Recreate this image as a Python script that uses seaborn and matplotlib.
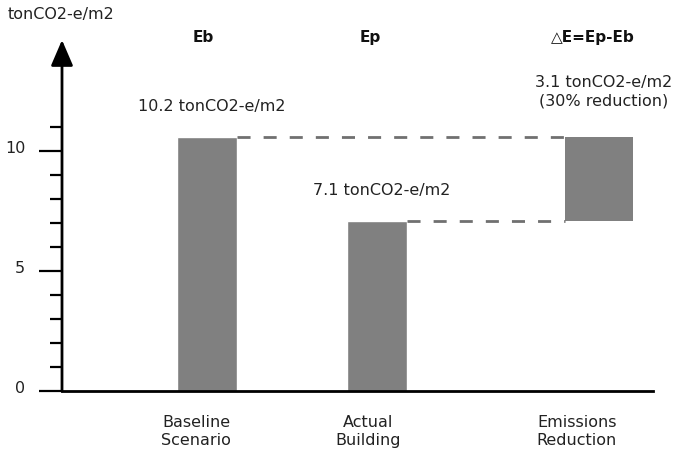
import matplotlib
matplotlib.use("Agg")
import matplotlib.pyplot as plt
import matplotlib.transforms as mtransforms
import seaborn as sns

sns.set_style("white")
plt.rcParams["font.family"] = ["DejaVu Sans"]

# values as drawn in the picture (tonCO2-e/m2)
scenarios = ["Baseline\nScenario", "Actual\nBuilding", "Emissions\nReduction"]
headers = ["Eb", "Ep", "\u25b3E=Ep-Eb"]
emissions = [10.6, 7.1]          # Eb, Ep bar heights
value_labels = ["10.2 tonCO2-e/m2", "7.1 tonCO2-e/m2",
                "3.1 tonCO2-e/m2\n(30% reduction)"]
unit = "tonCO2-e/m2"

W, H = 677, 454
fig = plt.figure(figsize=(W / 100, H / 100), dpi=100)
# axes placed in pixel terms: y axis at x=62, x axis from 62 to 653, zero at y=391, arrow tip at y=40
ax = fig.add_axes([62 / W, 1 - 391 / H, (653 - 62) / W, (391 - 40) / H])
px = 24.0  # pixels per unit on the y scale
ax.set_xlim(62, 653)
ax.set_ylim(0, 351 / px)

gray = "#808080"
bar_x = [207, 376.5]
sns.barplot(x=bar_x, y=emissions, native_scale=True, color=gray, saturation=1,
            width=60 / (bar_x[1] - bar_x[0]), errorbar=None, ax=ax)
# floating reduction bar
red_x = 599
ax.bar(red_x, emissions[0] - emissions[1], bottom=emissions[1], width=68,
       color=gray, linewidth=0)

# dashed connector lines
dash = dict(color="#707070", lw=2, ls=(0, (4.7, 4.7)))
ax.plot([237, 565], [emissions[0]] * 2, **dash)
ax.plot([407, 565], [emissions[1]] * 2, **dash)

# axes styling
sns.despine(ax=ax, top=True, right=True, left=True)
ax.spines["bottom"].set_linewidth(2)
ax.spines["bottom"].set_color("black")
ax.annotate("", xy=(62, 351 / px), xytext=(62, 0), xycoords="data",
            arrowprops=dict(arrowstyle="-|>,head_length=1.58,head_width=0.68",
                            color="black", lw=2, shrinkA=0, shrinkB=0,
                            mutation_scale=10),
            annotation_clip=False)

ax.set_yticks([0, 5, 10])
ax.set_yticks([1, 2, 3, 4, 6, 7, 8, 9, 11], minor=True)
ax.tick_params(axis="y", which="major", left=True, length=16.5, width=1.6,
               color="black", pad=10, labelsize=11.5, labelcolor="#222222")
ax.tick_params(axis="y", which="minor", left=True, length=8.6, width=1.6,
               color="black")
offset = mtransforms.ScaledTranslation(0, 4 / 100, fig.dpi_scale_trans)
for lab in ax.get_yticklabels():
    lab.set_transform(lab.get_transform() + offset)

ax.set_xticks([196, 368, 577])
ax.set_xticklabels(scenarios, linespacing=1.3)
ax.tick_params(axis="x", length=0, pad=17, labelsize=11.5, labelcolor="#222222")
ax.set_xlabel("")
ax.set_ylabel("")

def ypix(y):
    return (391 - y) / px

# headers
for hx, h in zip([203, 370, 593], headers):
    ax.text(hx, ypix(38), h, ha="center", va="center", fontsize=11,
            fontweight="bold", color="#111111")

# value labels
ax.text(212, ypix(107), value_labels[0], ha="center", va="center", fontsize=11.5, color="#222222")
ax.text(382, ypix(191), value_labels[1], ha="center", va="center", fontsize=11.5, color="#222222")
ax.text(604, ypix(92), value_labels[2], ha="center", va="center", fontsize=11.5,
        color="#222222", linespacing=1.25, multialignment="center")

fig.text(8 / W, 1 - 15 / H, unit, ha="left", va="center", fontsize=11.5, color="#222222")

fig.savefig("out.png", dpi=100)
